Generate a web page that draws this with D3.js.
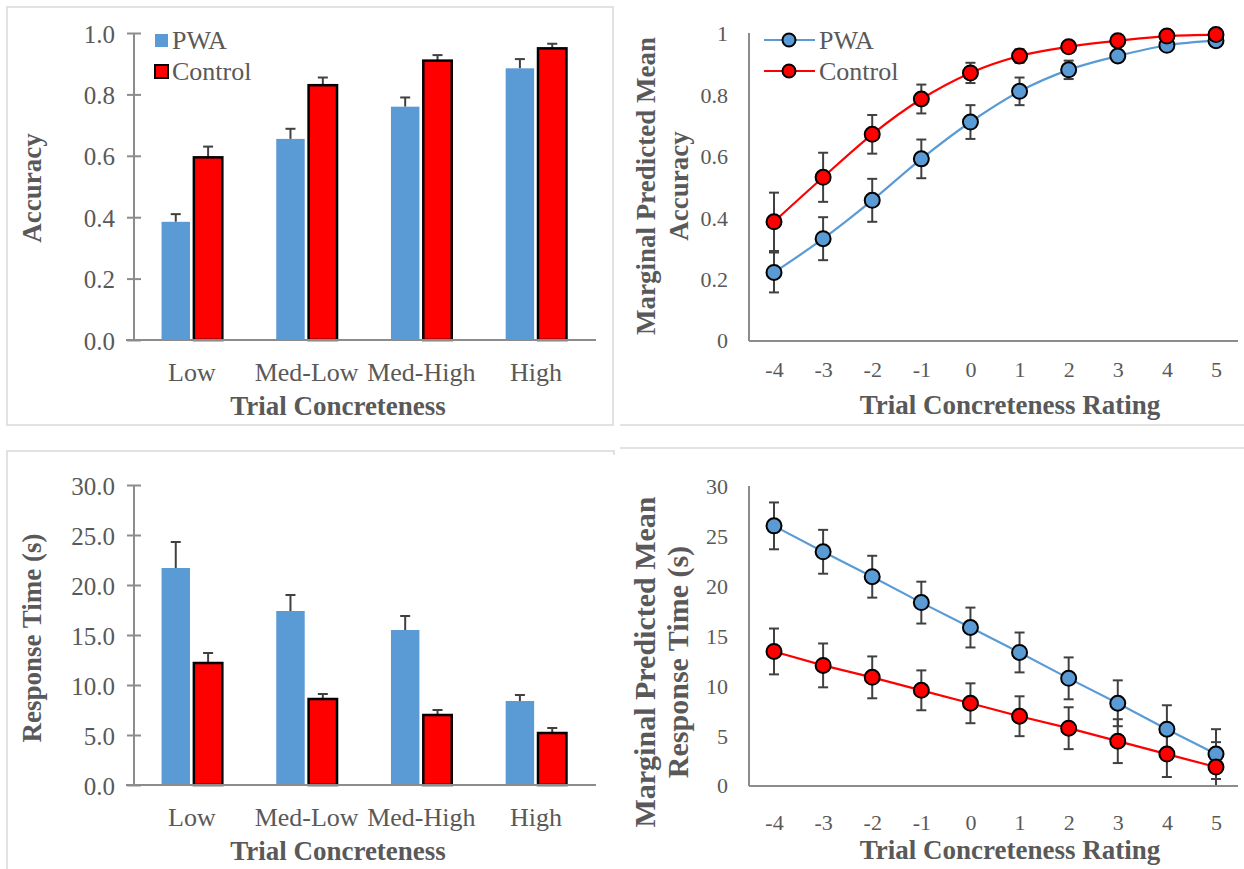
<!DOCTYPE html>
<html>
<head>
<meta charset="utf-8">
<script src="https://cdn.jsdelivr.net/npm/d3@7"></script>
<style>
  body { margin: 0; background: #fff; }
  svg { font-family: "Liberation Serif", "Times New Roman", serif; }
  .tick text { fill: #595959; }
  .title { fill: #595959; font-weight: bold; font-size: 27px; }
</style>
</head>
<body>
<svg id="chart" width="1244" height="869"></svg>
<script>
var serif = "Liberation Serif, Times New Roman, serif"

var categories = ["Low", "Med-Low", "Med-High", "High"]
var accPWA = [0.385, 0.655, 0.76, 0.885]
var accPWAErr = [0.025, 0.033, 0.03, 0.03]
var accCtl = [0.595, 0.83, 0.91, 0.95]
var accCtlErr = [0.035, 0.025, 0.018, 0.015]

var rtPWA = [21.7, 17.4, 15.5, 8.4]
var rtPWAErr = [2.6, 1.6, 1.4, 0.6]
var rtCtl = [12.2, 8.6, 7.0, 5.2]
var rtCtlErr = [1.0, 0.5, 0.5, 0.5]

var ratings = [-4, -3, -2, -1, 0, 1, 2, 3, 4, 5]
var mAccPWA = [0.22, 0.33, 0.455, 0.59, 0.71, 0.81, 0.88, 0.925, 0.96, 0.975]
var mAccPWAErr = [0.065, 0.07, 0.07, 0.063, 0.055, 0.045, 0.03, 0.015, 0.01, 0.005]
var mAccCtl = [0.385, 0.53, 0.67, 0.785, 0.87, 0.925, 0.955, 0.975, 0.99, 0.995]
var mAccCtlErr = [0.095, 0.08, 0.063, 0.047, 0.033, 0.022, 0.015, 0.01, 0.005, 0.003]

var mRtPWA = [26.0, 23.4, 20.9, 18.3, 15.8, 13.3, 10.7, 8.2, 5.6, 3.1]
var mRtPWAErr = [2.35, 2.2, 2.1, 2.1, 2.0, 2.0, 2.1, 2.3, 2.4, 2.5]
var mRtCtl = [13.4, 12.0, 10.8, 9.5, 8.2, 6.9, 5.7, 4.4, 3.1, 1.8]
var mRtCtlErr = [2.3, 2.2, 2.1, 2.0, 2.0, 2.0, 2.1, 2.2, 2.3, 2.5]

var accTicks = [0, 0.2, 0.4, 0.6, 0.8, 1.0]
var rtTicks = [0, 5, 10, 15, 20, 25, 30]

var blue = "#5b9bd5", red = "#ff0000", axisCol = "#8c8c8c", errCol = "#404040"

var svg = d3.select("#chart")

// panel frames
var frame = svg.append("g").attr("fill", "none").attr("stroke", "#d9d9d9").attr("stroke-width", 1.5)
frame.append("rect").attr("x", 7).attr("y", 7).attr("width", 606).attr("height", 418)
frame.append("line").attr("x1", 620).attr("x2", 1244).attr("y1", 425).attr("y2", 425)
frame.append("path").attr("d", "M7,869V451H614V455")
frame.append("line").attr("x1", 620).attr("x2", 1244).attr("y1", 448).attr("y2", 448)

function barPanel(o) {
    var g = svg.append("g")
    var x = d3.scaleBand().domain(categories).range([134, 594]).paddingInner(0.47).paddingOuter(0.24)
    var y = d3.scaleLinear().domain(o.domain).range([o.y0, o.y1])

    g.append("g")
        .attr("transform", "translate(134,0)")
        .call(d3.axisLeft(y).tickValues(o.ticks).tickSize(7).tickFormat(d3.format(".1f")))
        .attr("font-family", serif).attr("font-size", 25)
        .call(function (a) {
            a.select(".domain").remove()
            a.selectAll(".tick line").attr("x2", 7).attr("x1", -7).attr("stroke", axisCol).attr("stroke-width", 2)
            a.selectAll(".tick text").attr("x", -19).attr("dy", "0.36em")
        })
    g.append("line").attr("x1", 134).attr("x2", 134).attr("y1", y(o.domain[1])).attr("y2", y(0))
        .attr("stroke", axisCol).attr("stroke-width", 2)

    var sub = d3.scaleBand().domain([0, 1]).range([0, x.bandwidth()]).paddingInner(0.12)
    var series = [
        { vals: o.pwa, err: o.pwaErr, fill: blue, stroke: "none" },
        { vals: o.ctl, err: o.ctlErr, fill: red, stroke: "#000" }
    ]
    series.forEach(function (s, si) {
        var bx = function (i) { return x(categories[i]) + sub(si) }
        g.selectAll(null).data(s.vals).enter().append("line")
            .attr("x1", function (d, i) { return bx(i) + sub.bandwidth() / 2 })
            .attr("x2", function (d, i) { return bx(i) + sub.bandwidth() / 2 })
            .attr("y1", function (d) { return y(d) })
            .attr("y2", function (d, i) { return y(d + s.err[i]) })
            .attr("stroke", errCol).attr("stroke-width", 2)
        g.selectAll(null).data(s.vals).enter().append("line")
            .attr("x1", function (d, i) { return bx(i) + sub.bandwidth() / 2 - 5 })
            .attr("x2", function (d, i) { return bx(i) + sub.bandwidth() / 2 + 5 })
            .attr("y1", function (d, i) { return y(d + s.err[i]) })
            .attr("y2", function (d, i) { return y(d + s.err[i]) })
            .attr("stroke", errCol).attr("stroke-width", 2)
        g.selectAll(null).data(s.vals).enter().append("rect")
            .attr("x", function (d, i) { return bx(i) })
            .attr("width", sub.bandwidth())
            .attr("y", function (d) { return y(d) })
            .attr("height", function (d) { return y(0) - y(d) })
            .attr("fill", s.fill)
            .attr("stroke", s.stroke).attr("stroke-width", 2.5)
    })

    g.append("line").attr("x1", 126).attr("x2", 596).attr("y1", y(0)).attr("y2", y(0))
        .attr("stroke", axisCol).attr("stroke-width", 2)

    g.selectAll(null).data(categories).enter().append("text")
        .attr("x", function (d) { return x(d) + x.bandwidth() / 2 })
        .attr("y", o.y0 + 41)
        .attr("text-anchor", "middle").attr("font-size", 26).attr("fill", "#595959")
        .text(function (d) { return d })

    g.append("text").attr("class", "title").attr("x", 338).attr("y", o.y0 + 75)
        .attr("text-anchor", "middle").text("Trial Concreteness")
    g.append("text").attr("class", "title")
        .attr("transform", "translate(41," + o.ylabY + ") rotate(-90)")
        .attr("text-anchor", "middle").text(o.ylabel)
    return g
}

function linePanel(o) {
    var g = svg.append("g")
    var x = d3.scaleLinear().domain([-4, 5]).range([774, 1216])
    var y = d3.scaleLinear().domain(o.domain).range([o.y0, o.y1])
    var fmt = function (d) { return String(d) }

    g.append("g")
        .attr("transform", "translate(749,0)")
        .call(d3.axisLeft(y).tickValues(o.ticks).tickSize(0).tickFormat(fmt))
        .attr("font-family", serif).attr("font-size", 22)
        .call(function (a) {
            a.select(".domain").remove()
            a.selectAll(".tick text").attr("x", -21).attr("dy", "0.36em")
        })
    g.append("g")
        .attr("transform", "translate(0," + (o.y0 + 1) + ")")
        .call(d3.axisBottom(x).tickValues(ratings).tickSize(0).tickFormat(fmt))
        .attr("font-family", serif).attr("font-size", 22)
        .call(function (a) {
            a.select(".domain").remove()
            a.selectAll(".tick text").attr("y", o.tickGap)
        })
    g.append("line").attr("x1", 749).attr("x2", 749).attr("y1", o.y1).attr("y2", o.y0 + 1)
        .attr("stroke", axisCol).attr("stroke-width", 2)
    g.append("line").attr("x1", 749).attr("x2", 1238).attr("y1", o.y0 + 1).attr("y2", o.y0 + 1)
        .attr("stroke", axisCol).attr("stroke-width", 2)

    var series = [
        { vals: o.pwa, err: o.pwaErr, col: blue },
        { vals: o.ctl, err: o.ctlErr, col: red }
    ]
    var line = d3.line()
        .x(function (d, i) { return x(ratings[i]) })
        .y(function (d) { return y(d) })
        .curve(o.smooth ? d3.curveMonotoneX : d3.curveLinear)

    series.forEach(function (s) {
        g.append("path").datum(s.vals).attr("d", line)
            .attr("fill", "none").attr("stroke", s.col).attr("stroke-width", 2.2)
    })
    series.forEach(function (s) {
        var eb = g.append("g").attr("stroke", errCol).attr("stroke-width", 2)
        s.vals.forEach(function (d, i) {
            var lo = Math.max(o.domain[0], d - s.err[i]), hi = d + s.err[i]
            var cx = x(ratings[i])
            eb.append("line").attr("x1", cx).attr("x2", cx).attr("y1", y(lo)).attr("y2", y(hi))
            eb.append("line").attr("x1", cx - 5).attr("x2", cx + 5).attr("y1", y(hi)).attr("y2", y(hi))
            if (d - s.err[i] >= o.domain[0])
                eb.append("line").attr("x1", cx - 5).attr("x2", cx + 5).attr("y1", y(lo)).attr("y2", y(lo))
        })
    })
    series.forEach(function (s) {
        g.selectAll(null).data(s.vals).enter().append("circle")
            .attr("cx", function (d, i) { return x(ratings[i]) })
            .attr("cy", function (d) { return y(d) })
            .attr("r", 7.5)
            .attr("fill", s.col).attr("stroke", "#000").attr("stroke-width", 2)
    })

    g.append("text").attr("class", "title").attr("x", 1010).attr("y", o.y0 + 74)
        .attr("text-anchor", "middle").text("Trial Concreteness Rating")
    var t = g.append("text").attr("class", "title")
        .attr("transform", "translate(0," + o.ylabY + ") rotate(-90)")
        .attr("text-anchor", "middle").style("font-size", o.ylabSize + "px")
    t.append("tspan").attr("x", 0).attr("y", 655).text("Marginal Predicted Mean")
    t.append("tspan").attr("x", 0).attr("y", 688).text(o.ylabel)
    return g
}

barPanel({ domain: [0, 1], ticks: accTicks, y0: 340, y1: 33, pwa: accPWA, pwaErr: accPWAErr,
    ctl: accCtl, ctlErr: accCtlErr, ylabel: "Accuracy", ylabY: 188 })
barPanel({ domain: [0, 30], ticks: rtTicks, y0: 785, y1: 485, pwa: rtPWA, pwaErr: rtPWAErr,
    ctl: rtCtl, ctlErr: rtCtlErr, ylabel: "Response Time (s)", ylabY: 638 })

linePanel({ domain: [0, 1], ticks: [0, 0.2, 0.4, 0.6, 0.8, 1], y0: 340, y1: 33, smooth: true, tickGap: 20,
    pwa: mAccPWA, pwaErr: mAccPWAErr, ctl: mAccCtl, ctlErr: mAccCtlErr,
    ylabel: "Accuracy", ylabY: 186, ylabSize: 27 })
linePanel({ domain: [0, 30], ticks: rtTicks, y0: 785, y1: 486, smooth: false, tickGap: 28,
    pwa: mRtPWA, pwaErr: mRtPWAErr, ctl: mRtCtl, ctlErr: mRtCtlErr,
    ylabel: "Response Time (s)", ylabY: 662, ylabSize: 30 })

// legends
var lg = svg.append("g").attr("font-size", 26).attr("fill", "#595959")
lg.append("rect").attr("x", 155).attr("y", 34).attr("width", 13).attr("height", 13).attr("fill", blue)
lg.append("text").attr("x", 172).attr("y", 49).text("PWA")
lg.append("rect").attr("x", 155).attr("y", 65).attr("width", 13).attr("height", 13)
    .attr("fill", red).attr("stroke", "#000").attr("stroke-width", 2)
lg.append("text").attr("x", 172).attr("y", 80).text("Control")

var lg2 = svg.append("g").attr("font-size", 26).attr("fill", "#595959")
var legendItems = [{ name: "PWA", col: blue, y: 40 }, { name: "Control", col: red, y: 71 }]
legendItems.forEach(function (d) {
    lg2.append("line").attr("x1", 764).attr("x2", 815).attr("y1", d.y).attr("y2", d.y)
        .attr("stroke", d.col).attr("stroke-width", 2.2)
    lg2.append("circle").attr("cx", 789).attr("cy", d.y).attr("r", 6.5)
        .attr("fill", d.col).attr("stroke", "#000").attr("stroke-width", 2)
    lg2.append("text").attr("x", 819).attr("y", d.y + 9).text(d.name)
})
</script>
</body>
</html>
